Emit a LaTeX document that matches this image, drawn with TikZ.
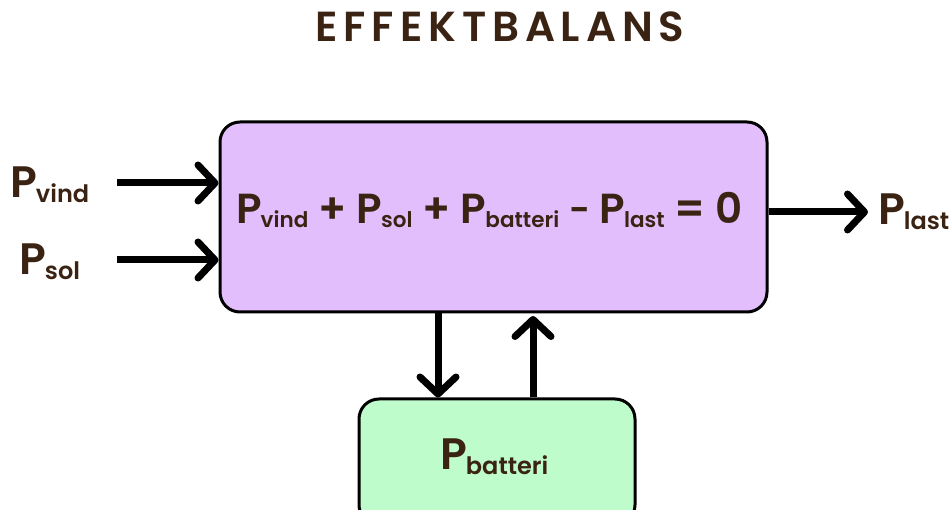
\documentclass[tikz,border=0pt]{standalone}
\usepackage{fontspec}
\usetikzlibrary{arrows.meta}
\setmainfont{Poppins SemiBold}
\newfontfamily\titlefont{Poppins SemiBold}[LetterSpace=14]
\definecolor{tbrown}{HTML}{3B2314}
\definecolor{purplefill}{HTML}{E3BEFD}
\definecolor{greenfill}{HTML}{BFFCCB}
\newcommand\PL[1]{P\kern-1pt\raisebox{-5pt}{\fontsize{24}{24}\selectfont #1}}
\newcommand\PE[1]{P\kern-1pt\raisebox{-4pt}{\fontsize{21.5}{21.5}\selectfont #1}}
\tikzset{
  boxstyle/.style={draw=black, line width=3pt, rounded corners=20pt, inner sep=0pt},
  arr/.style={line width=7pt, -{Straight Barb[length=17pt,width=36pt,round]}},
  lbl/.style={text=tbrown, inner sep=0pt, anchor=base west, font=\fontsize{44}{44}\selectfont},
}
\begin{document}
\begin{tikzpicture}[x=1pt,y=-1pt]
\clip (0,0) rectangle (951,510);
\fill[white] (0,0) rectangle (951,510);
\node[text=tbrown, inner sep=0pt, anchor=base, font=\titlefont\fontsize{42}{42}\selectfont] (title) at (500,42) {EFFEKTBALANS};
\node[boxstyle, fill=purplefill, minimum width=547pt, minimum height=190pt] (main) at (493.5,217) {};
\node[boxstyle, fill=greenfill, minimum width=276pt, minimum height=126pt] (batt) at (497,462) {};
\node[lbl, font=\fontsize{42}{42}\selectfont] (eq) at (236,224) {\PE{vind} + \PE{sol} + \PE{batteri} {\fontsize{36}{36}\selectfont\raisebox{1pt}{−}} \PE{last} = 0};
\node[lbl] (vind) at (10,198) {\PL{vind}};
\node[lbl] (sol) at (19,275) {\PL{sol}};
\node[lbl] (last) at (878,225) {\PL{last}};
\node[lbl] (battlbl) at (440,470) {\PL{batteri}};
\coordinate (v0) at (117,183);
\coordinate (s0) at (117,260);
\coordinate (l1) at (868,212);
\coordinate (d0) at (438,312);
\coordinate (u1) at (533,316);
\draw[arr] (v0) -- (main.west |- v0);
\draw[arr] (s0) -- (main.west |- s0);
\draw[arr] (main.east |- l1) -- (l1);
\draw[arr] (d0) -- (batt.north -| d0);
\draw[arr] (batt.north -| u1) -- (u1);
\end{tikzpicture}
\end{document}
